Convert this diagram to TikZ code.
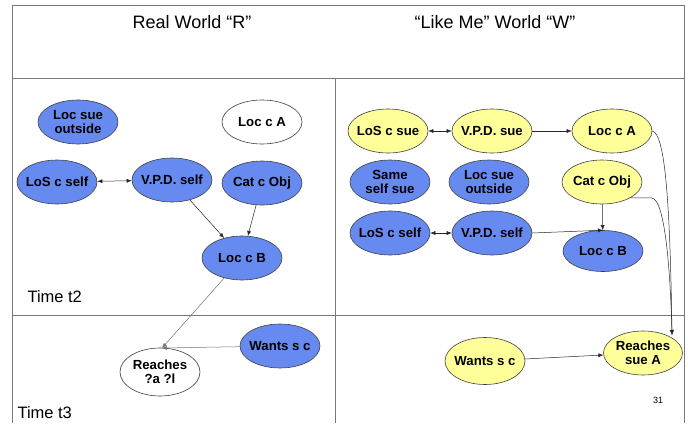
\documentclass[tikz,border=0pt]{standalone}
\usepackage{fontspec}
\setmainfont{Liberation Sans}
\usetikzlibrary{shapes.geometric,arrows.meta}
\definecolor{nodeblue}{RGB}{102,138,240}
\definecolor{nodeyellow}{RGB}{255,255,153}
\definecolor{framegray}{RGB}{120,120,120}
\tikzset{
  ev/.style={ellipse, draw=black!75, line width=0.6pt, minimum width=80pt,
    minimum height=44pt, inner xsep=-12pt, inner ysep=-6pt, align=center,
    font=\fontsize{13.2}{14.5}\selectfont\bfseries},
  blueev/.style={ev, fill=nodeblue},
  yellowev/.style={ev, fill=nodeyellow},
  whiteev/.style={ev, fill=white},
  link/.style={draw=black!85, line width=0.5pt, -{Latex[length=5pt,width=4pt]}},
  dlink/.style={draw=black!85, line width=0.5pt, {Latex[length=5pt,width=4pt]}-{Latex[length=5pt,width=4pt]}},
  faint/.style={draw=black!55, line width=0.5pt, -{Latex[length=5pt,width=4pt]}},
  frame/.style={draw=framegray, line width=0.8pt},
  title/.style={font=\fontsize{18}{20}\selectfont},
  timelabel/.style={font=\fontsize{16.5}{18}\selectfont, anchor=base west}
}
\begin{document}
\begin{tikzpicture}[x=1pt,y=-1pt]
\useasboundingbox (0,0) rectangle (688,423);
% frame and panel dividers
\draw[frame] (12,423) -- (12,5) -- (684,5) -- (684,423);
\draw[frame] (12,78) -- (684,78);
\draw[frame] (12,315) -- (684,315);
\draw[frame] (335,78) -- (335,423);

% column headings
\node[title] (tR) at (192,22) {Real World “R”};
\node[title] (tW) at (495,22) {“Like Me” World “W”};

% real world, time t2
\node[blueev] (Rlso) at (78,122) {Loc sue\\outside};
\node[whiteev] (RlA) at (262,122) {Loc c A};
\node[blueev] (Rlos) at (57,182) {LoS c self};
\node[blueev] (Rvpd) at (172,180) {V.P.D. self};
\node[blueev] (Rcat) at (262,183) {Cat c Obj};
\node[blueev] (RlB) at (242,258) {Loc c B};
\node[timelabel] (t2) at (24,302) {Time t2};

% real world, time t3
\node[whiteev, minimum height=48pt] (Rreach) at (160,372) {Reaches\\?a ?l};
\node[blueev] (Rwant) at (280,346) {Wants s c};
\node[timelabel] (t3) at (14,418) {Time t3};

\draw[dlink] (Rlos) -- (Rvpd);
\draw[link] (Rvpd) -- (RlB);
\draw[link] (Rcat) -- (RlB);
\coordinate (Rin) at (162,348);
\draw[faint] (RlB) -- (Rin);
\draw[faint] (Rwant) -- (Rin);

% like-me world, time t2
\node[yellowev] (Wlos) at (388,131) {LoS c sue};
\node[yellowev] (Wvpd) at (492,131) {V.P.D. sue};
\node[yellowev] (WlA) at (612,131) {Loc c A};
\node[blueev] (Wsame) at (390,182) {Same\\self sue};
\node[blueev] (Wlso) at (489,182) {Loc sue\\outside};
\node[yellowev] (Wcat) at (602,182) {Cat c Obj};
\node[blueev] (Wlos2) at (390,233) {LoS c self};
\node[blueev] (Wvpd2) at (492,233) {V.P.D. self};
\node[blueev, minimum height=41pt] (WlB) at (603,251) {Loc c B};

% like-me world, time t3
\node[yellowev, minimum height=47pt] (Wwant) at (485,361) {Wants s c};
\node[yellowev, minimum width=79pt] (Wreach) at (643,353) {Reaches\\sue A};
\node[font=\fontsize{9}{10}\selectfont] (pg) at (658,400) {31};

\draw[dlink] (Wlos) -- (Wvpd);
\draw[link] (Wvpd) -- (WlA);
\draw[link] (Wcat) -- (WlB);
\draw[link] (Wvpd2.east) -- (WlB.north);
\draw[dlink] (Wlos2) -- (Wvpd2);
\coordinate (Win) at (672,335);
\draw[link] (WlA.east) .. controls (665,134) and (670,200) .. (Win);
\draw[link] (Wcat.south east) -- (652,198) .. controls (664,200) and (670,260) .. (Win);
\draw[link] (Wwant) -- (Wreach);
\end{tikzpicture}
\end{document}
